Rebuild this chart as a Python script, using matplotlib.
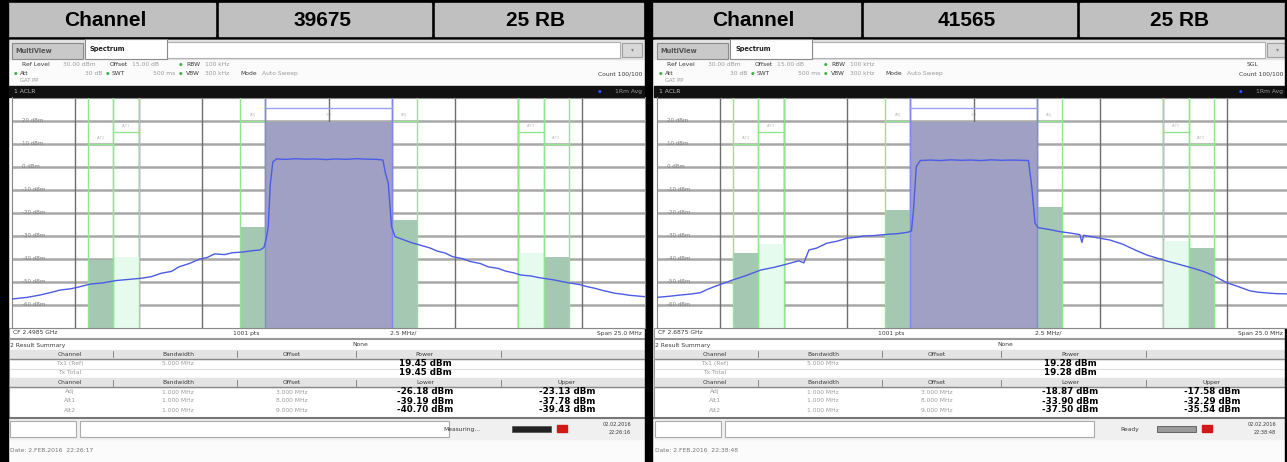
import numpy as np
import matplotlib.pyplot as plt
from matplotlib.patches import Rectangle

header_channel = ['39675', '41565']
header_rb = ['25 RB', '25 RB']
center_freq = ['2.4985 GHz', '2.6875 GHz']
tx_bw = 5.0                      # MHz
tx_power = [19.45, 19.28]        # dBm
alt_names = ['Adj', 'Alt1', 'Alt2']
alt_bw = [1.0, 1.0, 1.0]         # MHz
alt_offset = [3.0, 8.0, 9.0]     # MHz
lower_power = [[-26.18, -39.19, -40.70], [-18.87, -33.90, -37.50]]
upper_power = [[-23.13, -37.78, -39.43], [-17.58, -32.29, -35.54]]
limit_level = [20, 15, 10]       # green limit line per channel (dBm)
limit_label = ['ADJ', 'ALT1', 'ALT2']
tx_limit = 25.3
y_labels = [20, 10, 0, -10, -20, -30, -40, -50, -60]
status_text = ['Measuring...', 'Ready']
clock = ['22:26:16', '22:38:48']
date_line = ['Date: 2.FEB.2016  22:26:17', 'Date: 2.FEB.2016  22:38:48']

# trace (offset from CF in MHz, level in dBm)
trace1_f = [-12.5, -11.9, -11.4, -10.9, -10.6, -10.2, -9.9, -9.4, -8.9, -8.4, -7.9, -7.4,
            -7.0, -6.6, -6.2, -5.9, -5.5, -5.1, -4.8, -4.5, -4.1, -3.8, -3.4, -3.0, -2.7,
            -2.55, -2.45, -2.38, -2.3, -2.2, -2.05, -1.7, -1.3, -0.9, -0.5, -0.1, 0.3, 0.7,
            1.1, 1.5, 1.9, 2.15, 2.25, 2.36, 2.49, 2.63, 3.0, 3.3, 3.6, 4.0, 4.3, 4.6, 4.9,
            5.3, 5.6, 6.0, 6.3, 6.7, 7.0, 7.3, 7.6, 8.0, 8.3, 8.6, 8.9, 9.3, 9.6, 9.9, 10.2,
            10.5, 10.8, 11.0, 11.3, 11.6, 11.9, 12.2, 12.5]
trace1_p = [-57.6, -56.9, -55.9, -54.6, -53.7, -53.2, -52.5, -51.1, -50.6, -49.6, -49.1, -48.6,
            -47.9, -46.4, -45.6, -43.6, -42.2, -40.3, -39.6, -38.0, -38.3, -37.5, -37.2, -36.6, -36.3,
            -35.2, -31.0, -26.2, -8.0, 2.0, 3.3, 3.1, 3.4, 3.2, 3.3, 3.0, 3.3, 3.1,
            3.4, 3.2, 3.1, 2.8, -3.0, -7.3, -26.2, -30.5, -32.0, -33.2, -34.1, -35.4, -36.8, -37.6, -39.2,
            -40.1, -41.3, -42.2, -43.6, -44.3, -45.5, -46.2, -47.2, -47.6, -48.3, -48.8, -49.3, -50.2, -50.8, -51.3, -52.2,
            -52.9, -53.8, -54.3, -55.1, -55.5, -56.0, -56.3, -56.6]

trace2_f = [-12.5, -12.0, -11.6, -11.2, -10.8, -10.5, -10.3, -9.9, -9.5, -9.0, -8.4, -7.9, -7.5,
            -7.2, -6.9, -6.7, -6.5, -6.2, -5.8, -5.4, -5.0, -4.6, -4.3, -3.9, -3.4, -3.0,
            -2.6, -2.45, -2.37, -2.26, -2.1, -1.7, -1.3, -0.9, -0.5, -0.1, 0.3, 0.7, 1.1,
            1.5, 1.9, 2.17, 2.3, 2.43, 2.56, 3.0, 3.4, 3.8, 4.2, 4.28, 4.35, 4.9, 5.4, 5.9,
            6.4, 6.85, 7.3, 7.8, 8.2, 8.7, 9.1, 9.5, 10.0, 10.4, 10.9, 11.2, 11.6, 12.0, 12.5]
trace2_p = [-56.9, -56.4, -55.9, -55.5, -54.9, -53.4, -52.5, -50.9, -49.3, -47.5, -45.0, -43.9, -42.8,
            -41.9, -41.0, -41.9, -36.3, -35.5, -33.4, -32.5, -31.2, -30.7, -30.2, -30.0, -29.5, -29.2,
            -28.6, -28.0, -18.9, 0.0, 2.6, 2.8, 2.6, 2.9, 2.7, 2.8, 2.6, 2.9, 2.7,
            2.8, 2.7, 2.6, -8.8, -24.7, -26.6, -27.4, -28.3, -28.9, -29.6, -33.0, -29.9, -31.0, -32.0, -33.8,
            -36.4, -38.5, -40.0, -41.6, -42.8, -44.3, -45.7, -47.6, -50.5, -52.0, -54.0, -54.6, -55.0, -55.3, -55.4]
traces = [(trace1_f, trace1_p), (trace2_f, trace2_p)]

W, H = 1287, 462
fig = plt.figure(figsize=(W / 100, H / 100), dpi=100)
bg = fig.add_axes([0, 0, 1, 1])
bg.set_xlim(0, W)
bg.set_ylim(H, 0)
bg.axis('off')

small = dict(family='DejaVu Sans', fontsize=4.3)
dark = '#3a3a3a'
grey = '#9a9a9a'
green_line = '#8fe68f'
dark_fill = '#a5c8b3'
light_fill = '#e6fbee'
tx_fill = '#a0a0c4'
trace_col = '#4b5ce6'


def t(x, y, s, **kw):
    opts = dict(small)
    opts.update(kw)
    opts.setdefault('va', 'center')
    bg.text(x, y, s, **opts)


# header table
bg.add_patch(Rectangle((0, 0), W, 40, color='black', zorder=0))
for k, off in enumerate([0, 645]):
    right_end = 643 if k == 0 else 1285
    cells = [(off + 2, off + 215), (off + 219, off + 431), (off + 435, right_end)]
    if k == 1:
        cells[0] = (652, off + 215)
    for (a, b) in cells:
        bg.add_patch(Rectangle((a, 3), b - a, 33, color='#c0c0c0', zorder=1))
    texts = ['Channel', header_channel[k], header_rb[k]]
    for (a, b), s in zip(cells, texts):
        bg.text((a + b) / 2 - 3, 20.5, s, ha='center', va='center', fontsize=15, fontweight='bold',
                family='Liberation Sans', zorder=2)

# black borders between the screens
bg.add_patch(Rectangle((0, 0), 8, H, color='black', zorder=5))
bg.add_patch(Rectangle((645, 0), 7, H, color='black', zorder=5))
bg.add_patch(Rectangle((1285, 0), 2, H, color='black', zorder=5))

for k, off in enumerate([0, 645]):
    rx = min(off + 642, 1283)   # right edge for right-aligned texts
    # screen background
    bg.add_patch(Rectangle((off + 8, 40), 637, H - 40, color='#fbfbfb', zorder=0))
    # tabs
    bg.add_patch(Rectangle((off + 9, 40), 636, 19, color='#e2e2e2', zorder=1))
    bg.add_patch(Rectangle((off + 167, 42), 453, 16, facecolor='white', edgecolor='#b0b0b0', lw=0.8, zorder=1))
    bg.add_patch(Rectangle((off + 12, 43), 71, 16, facecolor='#c9c9c9', edgecolor='#8a8a8a', lw=0.8, zorder=2))
    bg.add_patch(Rectangle((off + 85, 39), 82, 20, facecolor='white', edgecolor='#8a8a8a', lw=0.8, zorder=2))
    bg.add_patch(Rectangle((off + 622, 43), 20, 14, facecolor='#d8d8d8', edgecolor='#a0a0a0', lw=0.8, zorder=2))
    t(off + 15, 51, 'MultiView', fontweight='bold', color='#555', zorder=3, fontsize=4.8)
    t(off + 90, 48.5, 'Spectrum', fontweight='bold', color='#222', zorder=3, fontsize=4.8)
    t(off + 632, 50, '\u25be', ha='center', color='#888', zorder=3)

    # settings lines
    t(off + 22, 65, 'Ref Level', color=dark)
    t(off + 63, 65, '30.00 dBm', color=grey)
    t(off + 110, 65, 'Offset', color=dark)
    t(off + 132, 65, '15.00 dB', color=grey)
    t(off + 179, 65, '\u25cf', color='#3cb043', fontsize=3)
    t(off + 186, 65, 'RBW', color=dark)
    t(off + 205, 65, '100 kHz', color=grey)
    t(off + 14, 73.5, '\u25cf', color='#3cb043', fontsize=3)
    t(off + 20, 73.5, 'Att', color=dark)
    t(off + 85, 73.5, '30 dB', color=grey)
    t(off + 106, 73.5, '\u25cf', color='#3cb043', fontsize=3)
    t(off + 112, 73.5, 'SWT', color=dark)
    t(off + 153, 73.5, '500 ms', color=grey)
    t(off + 179, 73.5, '\u25cf', color='#3cb043', fontsize=3)
    t(off + 186, 73.5, 'VBW', color=dark)
    t(off + 205, 73.5, '300 kHz', color=grey)
    t(off + 240, 73.5, 'Mode', color=dark)
    t(off + 262, 73.5, 'Auto Sweep', color=grey)
    t(off + 20, 80, 'GAT PP', color=grey, fontsize=3.8)
    if k == 1:
        t(rx - 36, 65, 'SGL', color=dark)
    t(rx, 73.5, 'Count 100/100', ha='right', color=dark)

    # title bar of the diagram
    bg.add_patch(Rectangle((off + 9, 86), 636, 11, color='#111', zorder=1))
    t(off + 14, 91.5, '1 ACLR', color='#bbb', zorder=2)
    t(rx - 44, 91.5, '\u25cf', color='#3050ff', fontsize=3, zorder=2)
    t(rx, 91.5, '1Rm Avg', ha='right', color='#999', zorder=2)

    # diagram
    ax = fig.add_axes([(off + 12) / W, 1 - 327.5 / H, 633 / W, 230 / H])
    ax.set_xlim(-12.5, 12.5)
    ax.set_ylim(-70, 30)
    ax.set_xticks([])
    ax.set_yticks([])
    for s in ax.spines.values():
        s.set_color('#888')
        s.set_linewidth(0.8)
    for v in np.arange(-60, 30, 10):
        ax.axhline(v, color='#a8a8a8', lw=1.8, zorder=1)
    for v in np.arange(-10, 12.5, 2.5):
        ax.axvline(v, color='#6e6e6e', lw=1.0, zorder=1)
    for v in y_labels:
        ax.text(-12.1, v, f'{v} dBm', fontsize=4, color='#808080', va='center', zorder=2)

    # channel power bars
    ax.bar(0, tx_power[k] + 70, bottom=-70, width=tx_bw, color=tx_fill, zorder=2)
    for i in range(3):
        fc = light_fill if i == 1 else dark_fill
        for side, pw in [(-1, lower_power[k][i]), (1, upper_power[k][i])]:
            c = side * alt_offset[i]
            ax.bar(c, pw + 70, bottom=-70, width=alt_bw[i], color=fc, zorder=2)
            for e in [c - alt_bw[i] / 2, c + alt_bw[i] / 2]:
                if abs(e) > tx_bw / 2:
                    ax.axvline(e, color=green_line, lw=1.0, zorder=3)
            ax.plot([c - alt_bw[i] / 2, c + alt_bw[i] / 2], [limit_level[i]] * 2, color=green_line, lw=1.0, zorder=3)
            ax.text(c, limit_level[i] + 2.5, limit_label[i], fontsize=2.5, color='#bbb', ha='center', va='center', zorder=3)
    for e in [-tx_bw / 2, tx_bw / 2]:
        ax.axvline(e, color='#7f86f0', lw=1.0, zorder=3)
    ax.plot([-tx_bw / 2, tx_bw / 2], [tx_limit, tx_limit], color='#9aa0f4', lw=1.0, zorder=3)
    ax.text(0, 22.6, 'TX1', fontsize=2.5, color='#bbb', ha='center', va='center', zorder=3)

    f, p = traces[k]
    ax.plot(f, p, color=trace_col, lw=1.0, zorder=4)

    # footer of the diagram
    bg.add_patch(Rectangle((off + 9, 328), 636, 10, facecolor='white', edgecolor='#999', lw=0.8, zorder=1))
    t(off + 13, 333, 'CF ' + center_freq[k], color=dark)
    t(off + 233, 333, '1001 pts', color=dark)
    t(off + 390, 333, '2.5 MHz/', color=dark)
    t(rx, 333, 'Span 25.0 MHz', ha='right', color=dark)

    # result summary table
    bg.add_patch(Rectangle((off + 9, 339), 636, 79, facecolor='white', edgecolor='#999', lw=0.8, zorder=1))
    t(off + 10, 345, '2 Result Summary', color=dark)
    t(off + 352, 345, 'None', color=dark)
    cols = [off + 70, off + 178, off + 292, off + 425, off + 567]
    seps = [off + 113, off + 237, off + 356, off + 501]
    for yh, names in [(354, ['Channel', 'Bandwidth', 'Offset', 'Power', '']),
                      (382.5, ['Channel', 'Bandwidth', 'Offset', 'Lower', 'Upper'])]:
        bg.add_patch(Rectangle((off + 10, yh - 4.5), 634, 9, color='#e4e4e4', zorder=1))
        bg.plot([off + 10, off + 644], [yh + 4.5, yh + 4.5], color='#888', lw=1.0, zorder=2)
        for x, s in zip(cols, names):
            t(x, yh, s, ha='center', color=dark, zorder=3)
        for x in seps:
            bg.plot([x, x], [yh - 3, yh + 3], color='#777', lw=0.6, zorder=3)
    bold = dict(fontsize=6.3, fontweight='bold', family='DejaVu Sans', color='black', zorder=3)
    t(cols[0], 363.5, 'Tx1 (Ref)', ha='center', color=grey)
    t(cols[1], 363.5, f'{tx_bw:.3f} MHz', ha='center', color=grey)
    t(cols[3], 363.5, f'{tx_power[k]:.2f} dBm', ha='center', **bold)
    bg.plot([off + 10, off + 644], [368.5, 368.5], color='#ddd', lw=0.8, zorder=2)
    t(cols[0], 372.5, 'Tx Total', ha='center', color=grey)
    t(cols[3], 372.5, f'{tx_power[k]:.2f} dBm', ha='center', **bold)
    for i in range(3):
        y = 392 + 9 * i
        t(cols[0], y, alt_names[i], ha='center', color=grey)
        t(cols[1], y, f'{alt_bw[i]:.3f} MHz', ha='center', color=grey)
        t(cols[2], y, f'{alt_offset[i]:.3f} MHz', ha='center', color=grey)
        t(cols[3], y, f'{lower_power[k][i]:.2f} dBm', ha='center', **bold)
        t(cols[4], y, f'{upper_power[k][i]:.2f} dBm', ha='center', **bold)
    bg.plot([off + 9, off + 645], [418, 418], color='#777', lw=1.5, zorder=2)

    # status bar
    bg.add_patch(Rectangle((off + 9, 419), 636, 20, color='#f0f0f0', zorder=1))
    bg.add_patch(Rectangle((off + 10, 421), 66, 16, facecolor='white', edgecolor='#aaa', lw=0.8, zorder=2))
    bg.add_patch(Rectangle((off + 80, 421), 369, 16, facecolor='white', edgecolor='#aaa', lw=0.8, zorder=2))
    t(off + 494 - (14 if k == 0 else 0), 429, status_text[k], ha='right', color=dark)
    bg.add_patch(Rectangle((off + 512, 426), 39, 6, facecolor='#222' if k == 0 else '#9a9a9a',
                           edgecolor='#555', lw=0.6, zorder=2))
    bg.add_patch(Rectangle((off + 557, 425), 10, 7, color='#d01818', zorder=2))
    t(off + 617, 424, '02.02.2016', ha='center', color=dark, fontsize=3.6)
    t(off + 620, 432, clock[k], ha='center', color=dark, fontsize=3.6)
    t(off + 10, 450, date_line[k], color='#777')

fig.savefig('out.png', dpi=100)
